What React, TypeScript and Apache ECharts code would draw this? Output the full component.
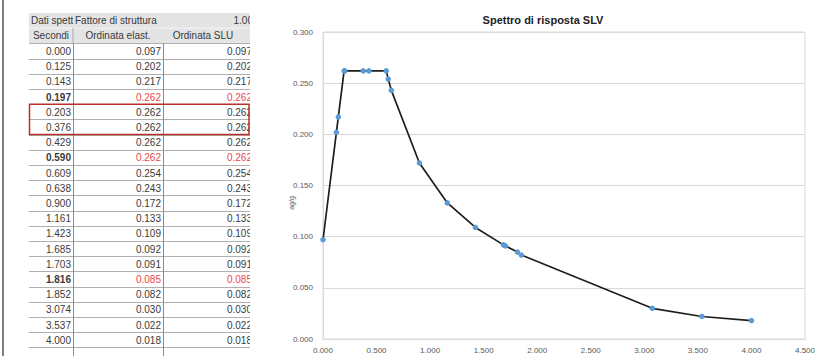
import React, { useEffect, useRef } from "react";
import * as echarts from "echarts";

const periods = [0.0, 0.125, 0.143, 0.197, 0.203, 0.376, 0.429, 0.59, 0.609, 0.638, 0.9, 1.161, 1.423, 1.685, 1.703, 1.816, 1.852, 3.074, 3.537, 4.0];
const elastOrd = [0.097, 0.202, 0.217, 0.262, 0.262, 0.262, 0.262, 0.262, 0.254, 0.243, 0.172, 0.133, 0.109, 0.092, 0.091, 0.085, 0.082, 0.03, 0.022, 0.018];
const sluOrd = [0.097, 0.202, 0.217, 0.262, 0.262, 0.262, 0.262, 0.262, 0.254, 0.243, 0.172, 0.133, 0.109, 0.092, 0.091, 0.085, 0.082, 0.03, 0.022, 0.018];
const boldRows = [3, 7, 15];
const boxedRows = [4, 5];
const headerTop = ["Dati spett", "Fattore di struttura", "1.00"];
const headerCols = ["Secondi", "Ordinata elast.", "Ordinata SLU"];
const chartTitle = "Spettro di risposta SLV";
const yAxisName = "ag/g";

const FONT = '"Liberation Sans", Arial, sans-serif';

function buildTable() {
  const els: any[] = [];
  const colX = [29, 73, 163, 250];
  const top = 13;
  const rh = 15.2;
  const L = colX[0];
  const R = colX[3];
  const txt = "#3a3a3a";
  els.push({ type: "line", shape: { x1: 3, y1: 0, x2: 3, y2: 356 }, style: { stroke: "#555", lineWidth: 1.5 }, z: 10 });
  els.push({ type: "rect", shape: { x: L, y: top, width: R - L + 10, height: rh * 2 }, style: { fill: "#e4e4e4" }, z: 1 });
  els.push({ type: "line", shape: { x1: L, y1: top + rh, x2: R + 10, y2: top + rh }, style: { stroke: "#f4f4f4", lineWidth: 1 }, z: 2 });
  els.push({ type: "text", style: { text: headerTop[0], x: 31, y: top + rh / 2, fontSize: 10, fontFamily: FONT, fill: txt, align: "left", verticalAlign: "middle" }, z: 3 });
  els.push({ type: "rect", shape: { x: 73, y: top + 1, width: 90, height: rh - 2 }, style: { fill: "#e4e4e4" }, z: 4 });
  els.push({ type: "text", style: { text: headerTop[1], x: 75, y: top + rh / 2, fontSize: 10, fontFamily: FONT, fill: txt, align: "left", verticalAlign: "middle" }, z: 5 });
  els.push({ type: "text", style: { text: headerTop[2], x: 253, y: top + rh / 2, fontSize: 10, fontFamily: FONT, fill: txt, align: "right", verticalAlign: "middle" }, z: 5 });
  const y2 = top + rh * 1.5;
  for (let c = 0; c < 3; c++) {
    els.push({ type: "text", style: { text: headerCols[c], x: c === 2 ? 203 : (colX[c] + colX[c + 1]) / 2, y: y2, fontSize: 10, fontFamily: FONT, fill: txt, align: "center", verticalAlign: "middle" }, z: 5 });
  }
  els.push({ type: "line", shape: { x1: 73, y1: top + rh, x2: 73, y2: top + rh * 2 }, style: { stroke: "#aaa", lineWidth: 1 }, z: 5 });
  const dataTop = top + rh * 2;
  const n = periods.length;
  for (let i = 0; i <= n; i++) {
    const y = Math.round(dataTop + i * rh) + 0.5;
    els.push({ type: "line", shape: { x1: L, y1: y, x2: R + 10, y2: y }, style: { stroke: "#b0b0b0", lineWidth: 1 }, z: 2 });
  }
  for (const x of [73.5, 163.5]) {
    els.push({ type: "line", shape: { x1: x, y1: dataTop, x2: x, y2: 356 }, style: { stroke: "#8a8a8a", lineWidth: 1 }, z: 2 });
  }
  for (let i = 0; i < n; i++) {
    const y = dataTop + i * rh + rh / 2 + 0.5;
    const bold = boldRows.indexOf(i) >= 0;
    const valColor = bold ? "#e8474b" : txt;
    els.push({ type: "text", style: { text: periods[i].toFixed(3), x: 71, y, fontSize: 10, fontFamily: FONT, fontWeight: bold ? "bold" : "normal", fill: txt, align: "right", verticalAlign: "middle" }, z: 5 });
    els.push({ type: "text", style: { text: elastOrd[i].toFixed(3), x: 161, y, fontSize: 10, fontFamily: FONT, fill: valColor, align: "right", verticalAlign: "middle" }, z: 5 });
    els.push({ type: "text", style: { text: sluOrd[i].toFixed(3), x: 252, y, fontSize: 10, fontFamily: FONT, fill: valColor, align: "right", verticalAlign: "middle" }, z: 5 });
  }
  els.push({ type: "rect", shape: { x: 250, y: 0, width: 14, height: 356 }, style: { fill: "#fff" }, z: 8 });
  const b0 = boxedRows[0];
  const b1 = boxedRows[boxedRows.length - 1];
  els.push({ type: "rect", shape: { x: 29.5, y: dataTop + b0 * rh, width: 219.5, height: (b1 - b0 + 1) * rh }, style: { fill: "none", stroke: "#b8302a", lineWidth: 1.5 }, z: 9 });
  els.push({ type: "text", rotation: Math.PI / 2, x: 291, y: 203, style: { text: yAxisName, fontSize: 7, fontFamily: FONT, fill: "#595959", align: "center", verticalAlign: "middle" }, z: 9 });
  return els;
}

export default function App() {
  const ref = useRef<HTMLDivElement>(null);
  useEffect(() => {
    if (!ref.current) return;
    const chart = echarts.init(ref.current, undefined, { renderer: "svg" });
    chart.setOption({
      animation: false,
      backgroundColor: "#fff",
      title: {
        text: chartTitle,
        left: 538,
        top: 9,
        textAlign: "center",
        textStyle: { fontSize: 11, fontWeight: "bold", fontFamily: FONT, color: "#222" },
      },
      grid: { left: 323, right: 25, top: 32, bottom: 17, show: true, borderColor: "#d9d9d9", borderWidth: 1 },
      xAxis: {
        type: "value",
        min: 0,
        max: 4.5,
        interval: 0.5,
        axisLine: { show: true, lineStyle: { color: "#d9d9d9" } },
        axisTick: { show: false },
        splitLine: { show: false },
        axisLabel: { formatter: (v: number) => v.toFixed(3), fontSize: 8, fontFamily: FONT, color: "#595959", margin: 7 },
      },
      yAxis: {
        type: "value",
        min: 0,
        max: 0.3,
        interval: 0.05,
        axisLine: { show: true, lineStyle: { color: "#d9d9d9" } },
        axisTick: { show: false },
        splitLine: { show: true, lineStyle: { color: "#d9d9d9", width: 1 } },
        axisLabel: { formatter: (v: number) => v.toFixed(3), fontSize: 8, fontFamily: FONT, color: "#595959", margin: 10 },
      },
      series: [
        {
          type: "line",
          data: periods.map((p, i) => [p, sluOrd[i]]),
          symbol: "circle",
          symbolSize: 5.5,
          showAllSymbol: true,
          lineStyle: { color: "#1e1e1e", width: 1.7 },
          itemStyle: { color: "#5b9bd5" },
          z: 3,
        },
      ],
      graphic: buildTable(),
    });
    return () => chart.dispose();
  }, []);
  return <div ref={ref} style={{ position: "fixed", left: 0, top: 0, width: 830, height: 356 }} />;
}
